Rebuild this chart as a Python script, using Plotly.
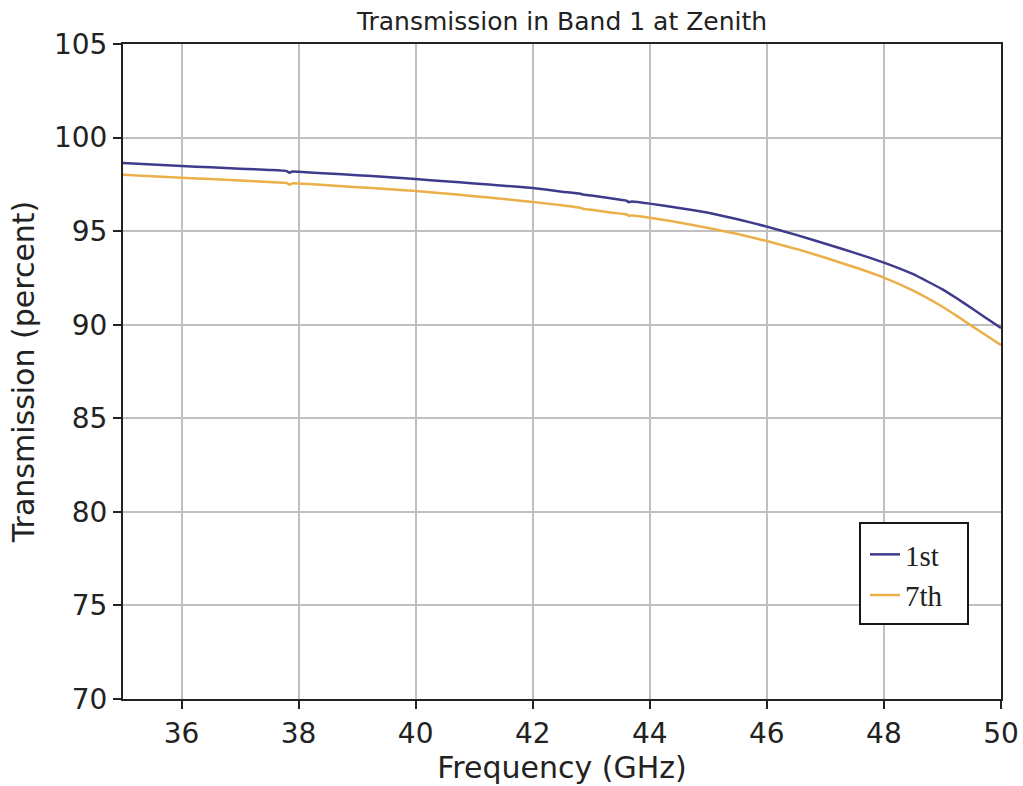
import plotly.graph_objects as go

freq_ghz = [35.0, 35.5, 36.0, 36.5, 37.0, 37.5, 37.8, 37.84, 37.9, 38.0, 38.5, 39.0, 39.5, 40.0,
            40.5, 41.0, 41.5, 42.0, 42.5, 42.8, 42.85, 43.0, 43.3, 43.6, 43.64, 43.7, 44.0,
            44.5, 45.0, 45.5, 46.0, 46.5, 47.0, 47.5, 48.0, 48.5, 49.0, 49.25, 49.5, 49.75, 50.0]

trans_1st = [98.64, 98.56, 98.48, 98.41, 98.34, 98.27, 98.21, 98.12, 98.19, 98.17, 98.08, 97.99,
             97.89, 97.78, 97.67, 97.55, 97.43, 97.30, 97.11, 97.01, 96.96, 96.90, 96.77, 96.63,
             96.55, 96.58, 96.47, 96.24, 95.98, 95.64, 95.24, 94.80, 94.33, 93.84, 93.32, 92.70,
             91.89, 91.40, 90.88, 90.35, 89.82]

trans_7th = [98.02, 97.93, 97.85, 97.78, 97.71, 97.62, 97.57, 97.48, 97.56, 97.55, 97.45, 97.35,
             97.25, 97.14, 97.01, 96.87, 96.72, 96.56, 96.38, 96.26, 96.20, 96.14, 96.01, 95.90,
             95.82, 95.84, 95.72, 95.46, 95.17, 94.85, 94.47, 94.05, 93.58, 93.07, 92.52, 91.82,
             90.96, 90.46, 89.94, 89.42, 88.91]

series_names = ["1st", "7th"]
series_colors = ["#3f3b8c", "#ebb04a"]

fig = go.Figure()
for name, vals, col in zip(series_names, [trans_1st, trans_7th], series_colors):
    fig.add_trace(go.Scatter(x=freq_ghz, y=vals, mode="lines", name=name,
                             line=dict(color=col, width=2.5, shape="spline", smoothing=0.3)))

axis_common = dict(
    showgrid=True, gridcolor="#c0c0c0", gridwidth=2,
    showline=True, linecolor="#222222", linewidth=2, mirror=True,
    ticks="outside", ticklen=8, tickwidth=2, tickcolor="#222222",
    tickfont=dict(family="DejaVu Sans", size=28, color="#222222"),
    zeroline=False,
)

# legend frame (plot area spans 123..1001 px horizontally, 44..699 px vertically)
fig.add_shape(type="rect", xref="paper", yref="paper",
              x0=(860 - 123) / 878, x1=(968 - 123) / 878,
              y0=(699 - 624) / 655, y1=(699 - 523) / 655,
              line=dict(color="#1a1414", width=2), fillcolor="white", layer="above")

fig.update_layout(
    width=1023, height=786,
    paper_bgcolor="white", plot_bgcolor="white",
    margin=dict(l=123, r=22, t=44, b=87, autoexpand=False),
    title=dict(text="Transmission in Band 1 at Zenith", x=0.5, xref="paper", xanchor="center",
               y=1 - 21 / 786, yanchor="middle",
               font=dict(family="DejaVu Sans", size=25, color="#222222")),
    xaxis=dict(range=[35, 50], dtick=2, tick0=36,
               title=dict(text="Frequency (GHz)", standoff=8,
                          font=dict(family="DejaVu Sans", size=30, color="#222222")),
               **axis_common),
    yaxis=dict(range=[70, 105], dtick=5,
               title=dict(text="Transmission (percent)", standoff=10,
                          font=dict(family="DejaVu Sans", size=30, color="#222222")),
               **axis_common),
    legend=dict(x=(865 - 123) / 878, y=(699 - 529) / 655, xanchor="left", yanchor="top",
                bgcolor="rgba(0,0,0,0)", borderwidth=0,
                font=dict(family="Liberation Serif", size=29, color="#222222"),
                tracegroupgap=0),
    showlegend=True,
)

fig.write_html("out.html", config={"displayModeBar": False},
               post_script="document.body.style.margin='0';")
